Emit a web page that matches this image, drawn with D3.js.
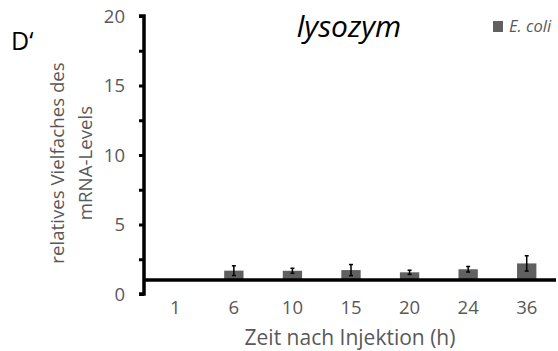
<!DOCTYPE html>
<html>
<head>
<meta charset="utf-8">
<script src="https://cdn.jsdelivr.net/npm/d3@7"></script>
<style>
  body { margin: 0; background: #fff; }
  text { font-family: "Open Sans", sans-serif; }
</style>
</head>
<body>
<svg id="chart" width="558" height="351"></svg>
<script>
// values
var timepoints = ["1", "6", "10", "15", "20", "24", "36"];
var ecoliValues = [1, 1.68, 1.67, 1.72, 1.56, 1.78, 2.2];
var ecoliErrors = [0, 0.35, 0.18, 0.4, 0.15, 0.2, 0.55];
var yTicks = [0, 5, 10, 15, 20];

var svg = d3.select("#chart");
var grey = "#595959";

var x = d3.scaleBand().domain(timepoints).range([146, 556]).paddingInner(0.67).paddingOuter(0.335);
var y = d3.scaleLinear().domain([0, 20]).range([294, 16]);

// bars go from the crossing point (1) to the value
svg.append("g").selectAll("rect")
  .data(ecoliValues)
  .enter()
  .append("rect")
  .attr("x", function(d, i) { return x(timepoints[i]); })
  .attr("width", x.bandwidth())
  .attr("y", function(d) { return y(Math.max(d, 1)); })
  .attr("height", function(d) { return Math.abs(y(1) - y(d)); })
  .attr("fill", "#606060");

// error bars
var err = svg.append("g").attr("stroke", "#000").attr("stroke-width", 1.5);
ecoliValues.forEach(function(d, i) {
  if (ecoliErrors[i] === 0) return;
  var cx = x(timepoints[i]) + x.bandwidth() / 2;
  err.append("line").attr("x1", cx).attr("x2", cx)
    .attr("y1", y(d + ecoliErrors[i])).attr("y2", y(d - ecoliErrors[i]));
  err.append("line").attr("x1", cx - 2).attr("x2", cx + 2)
    .attr("y1", y(d + ecoliErrors[i])).attr("y2", y(d + ecoliErrors[i]));
  err.append("line").attr("x1", cx - 2).attr("x2", cx + 2)
    .attr("y1", y(d - ecoliErrors[i])).attr("y2", y(d - ecoliErrors[i]));
});

// y axis
var yAxis = svg.append("g").attr("transform", "translate(144,0)")
  .call(d3.axisLeft(y).tickValues(d3.range(0, 20.1, 2.5)).tickSize(5).tickFormat(""));
yAxis.select(".domain").attr("stroke", "#000").attr("stroke-width", 3.5).attr("d", "M-5," + y(20) + "H0V" + y(0) + "H-5");
yAxis.selectAll(".tick line").attr("stroke", "#000").attr("stroke-width", 3);

svg.append("g").selectAll("text")
  .data(yTicks)
  .enter()
  .append("text")
  .attr("x", 125)
  .attr("y", function(d) { return y(d); })
  .attr("dy", "0.36em")
  .attr("text-anchor", "end")
  .attr("font-size", 18.5)
  .attr("fill", grey)
  .text(function(d) { return d; });

// x axis at y = 1
var xAxis = svg.append("g").attr("transform", "translate(0," + y(1) + ")")
  .call(d3.axisBottom(x).tickSize(0));
xAxis.select(".domain").attr("stroke", "#000").attr("stroke-width", 3.5).attr("d", "M143,0H556");
xAxis.selectAll(".tick text").attr("font-size", 18.5).attr("fill", grey)
  .attr("font-family", "Open Sans, sans-serif").attr("y", 34).attr("dy", null);

// labels
svg.append("text").attr("x", 350).attr("y", 345).attr("text-anchor", "middle")
  .attr("font-size", 21).attr("fill", grey).text("Zeit nach Injektion (h)");

var yl = svg.append("text").attr("transform", "translate(0,163) rotate(-90)")
  .attr("text-anchor", "middle").attr("font-size", 18.7).attr("fill", grey);
yl.append("tspan").attr("x", 0).attr("y", 64).text("relatives Vielfaches des");
yl.append("tspan").attr("x", 0).attr("y", 92).text("mRNA-Levels");

svg.append("text").attr("x", 349).attr("y", 37).attr("text-anchor", "middle")
  .attr("font-size", 30).attr("font-style", "italic").attr("fill", "#000").text("lysozym");

svg.append("text").attr("x", 11).attr("y", 50)
  .attr("font-size", 25).attr("fill", "#000").text("D\u2018");

// legend
svg.append("rect").attr("x", 493).attr("y", 21).attr("width", 10).attr("height", 11).attr("fill", "#606060");
svg.append("text").attr("x", 509).attr("y", 32).attr("font-size", 16.5)
  .attr("font-style", "italic").attr("fill", grey).text("E. coli");
</script>
</body>
</html>
